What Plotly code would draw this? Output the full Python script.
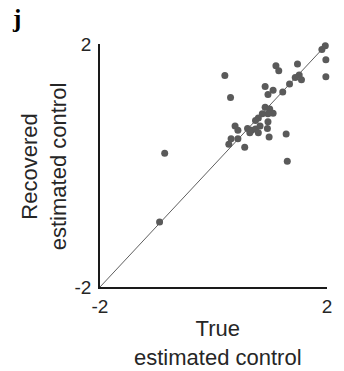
import plotly.graph_objects as go

# True vs recovered estimated control, one point per subject
true_ctrl = [1.97, 1.91, 1.98, 1.98, 0.20, 1.10, 1.15, 1.48, 1.51, 1.44,
             1.55, 1.34, 1.22, 0.91, 1.05, 0.96, 0.30, 0.91, 0.99, 1.05,
             0.96, 0.86, 0.79, 0.74, 0.96, 0.38, 0.43, 0.60, 0.67, 0.74,
             0.82, 0.64, 0.79, 0.95, 0.98, 1.28, 0.31, 0.43, 0.27, 0.55,
             1.30, -0.86, -0.95]
recovered_ctrl = [1.97, 1.91, 1.74, 1.46, 1.48, 1.64, 1.56, 1.67, 1.49, 1.45,
                  1.41, 1.34, 1.21, 1.30, 1.24, 1.17, 1.12, 0.96, 0.93, 0.86,
                  0.85, 0.85, 0.78, 0.74, 0.72, 0.65, 0.58, 0.61, 0.58, 0.60,
                  0.65, 0.54, 0.54, 0.61, 0.47, 0.52, 0.44, 0.44, 0.35, 0.30,
                  0.07, 0.20, -0.93]

axis_min, axis_max = -2, 2
tick_vals = [-2, 2]
tick_text = ["-2", "2"]

fig = go.Figure()

# identity line
fig.add_trace(go.Scatter(
    x=[axis_min, axis_max], y=[axis_min, axis_max], mode="lines",
    line=dict(color="#4d4d4d", width=0.9), hoverinfo="skip", showlegend=False,
))

fig.add_trace(go.Scatter(
    x=true_ctrl, y=recovered_ctrl, mode="markers",
    marker=dict(color="#5a5a5a", size=7, line=dict(width=0)),
    cliponaxis=False, showlegend=False,
))

font_family = "Liberation Sans, Arial, sans-serif"
axis_common = dict(
    range=[axis_min, axis_max], tickvals=tick_vals, ticktext=tick_text,
    showgrid=False, zeroline=False, showline=True, linecolor="#1a1a1a",
    linewidth=1.6, ticks="", tickfont=dict(size=19, color="#262626", family=font_family),
)

fig.update_layout(
    width=344, height=371,
    margin=dict(l=100, r=12, t=44, b=84),
    paper_bgcolor="white", plot_bgcolor="white",
    xaxis=dict(**axis_common, ticklabelstandoff=1),
    yaxis=dict(**axis_common, ticklabelstandoff=3),
    annotations=[
        dict(text="<b>j</b>", x=8, y=3, xref="paper", yref="paper",
             xanchor="left", yanchor="top", showarrow=False,
             font=dict(size=25, family="Liberation Serif, Times New Roman, serif", color="black")),
        dict(text="True<br>estimated control", x=221, y=314, xref="paper", yref="paper",
             xanchor="center", yanchor="top", showarrow=False,
             font=dict(size=22, family=font_family, color="#262626")),
        dict(text="Recovered<br>estimated control", x=43, y=166, xref="paper", yref="paper",
             xanchor="center", yanchor="middle", showarrow=False, textangle=-90,
             font=dict(size=22, family=font_family, color="#262626")),
    ],
)

# convert annotation pixel positions to paper coordinates
plot_w = 344 - 100 - 12
plot_h = 371 - 44 - 84
for ann in fig.layout.annotations:
    if ann.xref == "paper":
        ann.x = (ann.x - 100) / plot_w
        ann.y = (371 - 84 - ann.y) / plot_h

fig.write_html("out.html")
